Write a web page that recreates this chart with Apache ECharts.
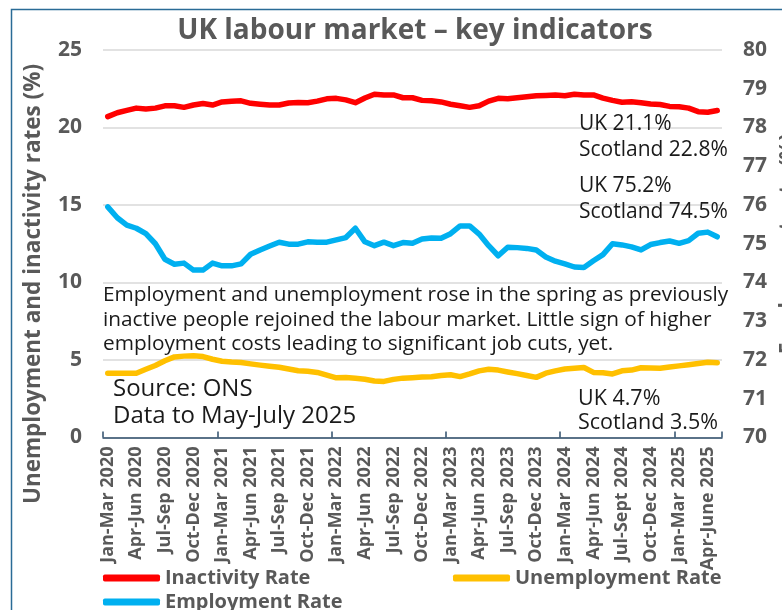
<!DOCTYPE html>
<html>
<head>
<meta charset="utf-8">
<script src="https://cdn.jsdelivr.net/npm/echarts@6/dist/echarts.min.js"></script>
<style>
  html, body { margin: 0; padding: 0; background: #fff; }
  #container { width: 782px; height: 610px; }
</style>
</head>
<body>
<div id="container"></div>
<script>
// rolling three-month periods, Jan-Mar 2020 to May-Jul 2025
const categories = [
  'Jan-Mar 2020', 'Feb-Apr 2020', 'Mar-May 2020', 'Apr-Jun 2020', 'May-Jul 2020', 'Jun-Aug 2020',
  'Jul-Sep 2020', 'Aug-Oct 2020', 'Sep-Nov 2020', 'Oct-Dec 2020', 'Nov-Jan 2021', 'Dec-Feb 2021',
  'Jan-Mar 2021', 'Feb-Apr 2021', 'Mar-May 2021', 'Apr-Jun 2021', 'May-Jul 2021', 'Jun-Aug 2021',
  'Jul-Sep 2021', 'Aug-Oct 2021', 'Sep-Nov 2021', 'Oct-Dec 2021', 'Nov-Jan 2022', 'Dec-Feb 2022',
  'Jan-Mar 2022', 'Feb-Apr 2022', 'Mar-May 2022', 'Apr-Jun 2022', 'May-Jul 2022', 'Jun-Aug 2022',
  'Jul-Sep 2022', 'Aug-Oct 2022', 'Sep-Nov 2022', 'Oct-Dec 2022', 'Nov-Jan 2023', 'Dec-Feb 2023',
  'Jan-Mar 2023', 'Feb-Apr 2023', 'Mar-May 2023', 'Apr-Jun 2023', 'May-Jul 2023', 'Jun-Aug 2023',
  'Jul-Sep 2023', 'Aug-Oct 2023', 'Sep-Nov 2023', 'Oct-Dec 2023', 'Nov-Jan 2024', 'Dec-Feb 2024',
  'Jan-Mar 2024', 'Feb-Apr 2024', 'Mar-May 2024', 'Apr-Jun 2024', 'May-Jul 2024', 'Jun-Aug 2024',
  'Jul-Sept 2024', 'Aug-Oct 2024', 'Sep-Nov 2024', 'Oct-Dec 2024', 'Nov-Jan 2025', 'Dec-Feb 2025',
  'Jan-Mar 2025', 'Feb-Apr 2025', 'Mar-May 2025', 'Apr-June 2025', 'May-Jul 2025'
]

// left axis (%)
const inactivity = [
  20.7, 20.95, 21.1, 21.25, 21.2, 21.25, 21.4, 21.4, 21.3, 21.45, 21.55, 21.45,
  21.65, 21.7, 21.72, 21.56, 21.5, 21.45, 21.45, 21.58, 21.62, 21.6, 21.7, 21.85,
  21.88, 21.78, 21.6, 21.9, 22.15, 22.1, 22.1, 21.92, 21.92, 21.75, 21.72, 21.65,
  21.5, 21.4, 21.3, 21.4, 21.7, 21.88, 21.85, 21.92, 21.98, 22.05, 22.07, 22.1,
  22.05, 22.15, 22.1, 22.1, 21.9, 21.75, 21.63, 21.66, 21.6, 21.52, 21.48, 21.36,
  21.34, 21.25, 21.02, 20.98, 21.1
]
const unemployment = [
  4.15, 4.15, 4.15, 4.15, 4.4, 4.65, 4.95, 5.2, 5.25, 5.28, 5.22, 5.05,
  4.92, 4.87, 4.84, 4.75, 4.67, 4.6, 4.53, 4.42, 4.31, 4.27, 4.2, 4.02,
  3.85, 3.87, 3.82, 3.76, 3.65, 3.62, 3.75, 3.83, 3.86, 3.9, 3.92, 4.0,
  4.05, 3.93, 4.1, 4.3, 4.4, 4.35, 4.23, 4.12, 4.0, 3.88, 4.15, 4.3,
  4.42, 4.47, 4.52, 4.2, 4.18, 4.1, 4.3, 4.35, 4.5, 4.48, 4.47, 4.55,
  4.62, 4.7, 4.77, 4.85, 4.83
]
// right axis (%)
const employment = [
  75.95, 75.67, 75.48, 75.4, 75.26, 75.0, 74.6, 74.47, 74.5, 74.32, 74.32, 74.5,
  74.43, 74.43, 74.48, 74.73, 74.84, 74.94, 75.04, 74.99, 74.99, 75.05, 75.04, 75.04,
  75.1, 75.16, 75.4, 75.05, 74.95, 75.04, 74.95, 75.03, 75.01, 75.12, 75.15, 75.14,
  75.26, 75.46, 75.46, 75.25, 74.95, 74.69, 74.91, 74.9, 74.88, 74.84, 74.66, 74.55,
  74.48, 74.4, 74.39, 74.56, 74.72, 75.0, 74.97, 74.92, 74.84, 74.98, 75.03, 75.07,
  75.01, 75.08, 75.27, 75.3, 75.18
]

const font = 'Open Sans'
const grey = '#595959'
const ink = '#1a1a1a'

let myChart = echarts.init(document.getElementById('container'), null, { renderer: 'canvas' })

const lineStyle = (color) => ({ color, width: 5.5, cap: 'round', join: 'round' })
const legendText = { fontFamily: font, fontSize: 20, fontWeight: 'bold', color: grey, lineHeight: 22 }
const legendItem = (name, left, top) => ({
  data: [name],
  left, top,
  padding: 0,
  icon: 'roundRect',
  itemWidth: 57,
  itemHeight: 7,
  itemGap: 4,
  textStyle: legendText
})

let option = {
  animation: false,
  grid: { left: 103, right: 60, top: 50, bottom: 172.5, containLabel: false, outerBoundsMode: 'none' },
  legend: [
    legendItem('Inactivity Rate', 103, 567),
    legendItem('Unemployment Rate', 453, 567),
    legendItem('Employment Rate', 103, 591)
  ],
  xAxis: {
    type: 'category',
    data: categories,
    boundaryGap: true,
    axisLine: { lineStyle: { color: '#2e4d6b', width: 1.5 } },
    axisTick: { show: true, interval: 11, inside: true, length: 6, lineStyle: { color: '#2e4d6b', width: 1.5 } },
    axisLabel: {
      interval: 2,
      rotate: 90,
      margin: 9,
      fontFamily: font,
      fontSize: 18,
      fontWeight: 'bold',
      color: grey
    }
  },
  yAxis: [
    {
      type: 'value',
      min: 0,
      max: 25,
      interval: 5,
      axisLine: { show: false },
      axisTick: { show: false },
      splitLine: { lineStyle: { color: '#d9d9d9', width: 1.5 } },
      axisLabel: { margin: 21, fontFamily: font, fontSize: 21, fontWeight: 'bold', color: grey }
    },
    {
      type: 'value',
      min: 70,
      max: 80,
      interval: 1,
      position: 'right',
      name: 'Employment rate (%)',
      nameLocation: 'middle',
      nameGap: 54,
      nameTextStyle: { fontFamily: font, fontSize: 21, fontWeight: 'bold', color: grey },
      axisLine: { show: false },
      axisTick: { show: false },
      splitLine: { show: false },
      axisLabel: { margin: 21, fontFamily: font, fontSize: 21, fontWeight: 'bold', color: grey }
    }
  ],
  series: [
    { name: 'Inactivity Rate', type: 'line', yAxisIndex: 0, data: inactivity, showSymbol: false, color: '#ff0000', lineStyle: lineStyle('#ff0000') },
    { name: 'Unemployment Rate', type: 'line', yAxisIndex: 0, data: unemployment, showSymbol: false, color: '#ffc000', lineStyle: lineStyle('#ffc000') },
    { name: 'Employment Rate', type: 'line', yAxisIndex: 1, data: employment, showSymbol: false, color: '#00b0f0', lineStyle: lineStyle('#00b0f0') }
  ],
  graphic: [
    {
      type: 'rect', silent: true, z: 0,
      shape: { x: 11.5, y: 9.5, width: 800, height: 700 },
      style: { fill: null, stroke: '#2a6b96', lineWidth: 1.5 }
    },
    {
      type: 'text', x: 415, y: 31, z: 10,
      style: { text: 'UK labour market – key indicators', fontFamily: font, fontSize: 28, fontWeight: 'bold', fill: grey, align: 'center', verticalAlign: 'middle' }
    },
    {
      type: 'text', x: 34, y: 284, rotation: Math.PI / 2, z: 10,
      style: { text: 'Unemployment and inactivity rates (%)', fontFamily: font, fontSize: 22.5, fontWeight: 'bold', fill: grey, align: 'center', verticalAlign: 'middle' }
    },
    {
      type: 'text', x: 579, y: 137, z: 10,
      style: { text: 'UK 21.1%\nScotland 22.8%', fontFamily: font, fontSize: 21, lineHeight: 26, fill: ink, verticalAlign: 'middle' }
    },
    {
      type: 'text', x: 579, y: 199, z: 10,
      style: { text: 'UK 75.2%\nScotland 74.5%', fontFamily: font, fontSize: 21, lineHeight: 26, fill: ink, verticalAlign: 'middle' }
    },
    {
      type: 'text', x: 103, y: 320, z: 10,
      style: {
        text: 'Employment and unemployment rose in the spring as previously\ninactive people rejoined the labour market. Little sign of higher\nemployment costs leading to significant job cuts, yet.',
        fontFamily: font, fontSize: 20.8, lineHeight: 24.5, fill: ink, verticalAlign: 'middle'
      }
    },
    {
      type: 'text', x: 113, y: 402.5, z: 10,
      style: { text: 'Source: ONS\nData to May-July 2025', fontFamily: font, fontSize: 24, lineHeight: 26.5, fill: ink, verticalAlign: 'middle' }
    },
    {
      type: 'text', x: 578, y: 411, z: 10,
      style: { text: 'UK 4.7%\nScotland 3.5%', fontFamily: font, fontSize: 21.5, lineHeight: 24, fill: ink, verticalAlign: 'middle' }
    }
  ]
}
myChart.setOption(option)
</script>
</body>
</html>
